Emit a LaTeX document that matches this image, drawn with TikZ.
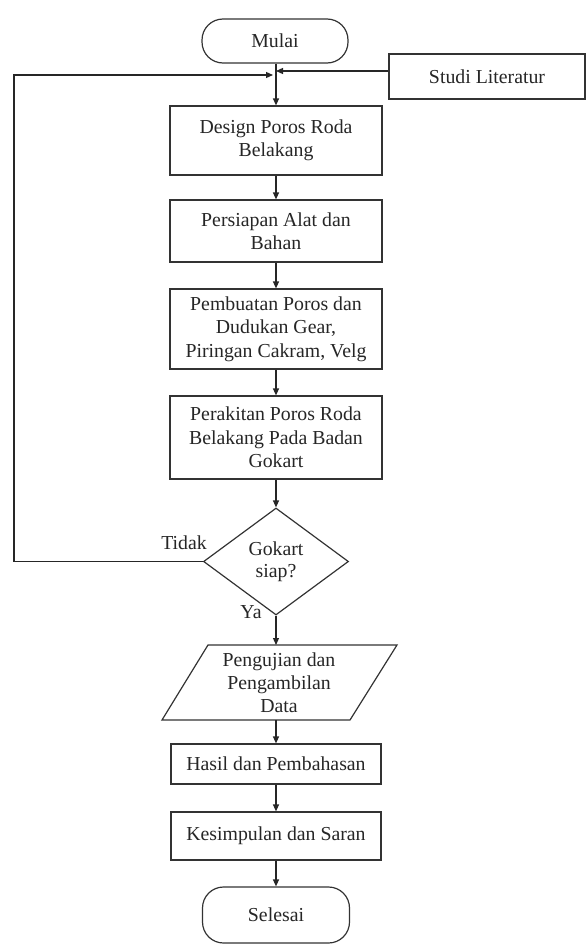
\documentclass[tikz,border=0pt]{standalone}
\usepackage{fontspec}
\setmainfont{Liberation Serif}
\usetikzlibrary{arrows.meta,shapes.geometric}
\begin{document}
\begin{tikzpicture}[x=1pt,y=-1pt,
  every node/.style={font=\fontsize{19.8}{23.5}\selectfont, align=center, inner sep=0pt, text=black!85},
  proc/.style={draw=black!80, line width=1.2pt, minimum width=212pt},
  term/.style={draw=black!80, rounded corners=21pt, line width=1.2pt, minimum width=146pt},
  dec/.style={draw=black!80, diamond, line width=1.2pt, minimum width=145pt, minimum height=107pt, font=\fontsize{19.8}{22}\selectfont},
  arr/.style={draw=black!85, line width=1.2pt, -{Triangle[length=7pt,width=6pt]}},
  ln/.style={draw=black!85, line width=1.2pt}
]
\useasboundingbox (0,0) rectangle (587,945);

\node[term, minimum height=44pt] (mulai) at (275,41) {Mulai};
\node[proc, minimum width=196pt, minimum height=45pt] (studi) at (487,76.5) {Studi Literatur};
\node[proc, minimum height=69pt] (design) at (276,140.5) {Design Poros Roda\\Belakang};
\node[proc, minimum height=62pt] (persiapan) at (276,231) {Persiapan Alat dan\\Bahan};
\node[proc, minimum height=80pt] (pembuatan) at (276,329) {Pembuatan Poros dan\\Dudukan Gear,\\Piringan Cakram, Velg};
\node[proc, minimum height=83pt] (perakitan) at (276,437.5) {Perakitan Poros Roda\\Belakang Pada Badan\\Gokart};
\node[dec] (cek) at (276,561.5) {Gokart\\siap?};

\coordinate (p1) at (208,645);
\coordinate (p2) at (397,645);
\coordinate (p3) at (350,720);
\coordinate (p4) at (162,720);
\draw[draw=black!80, line width=1.2pt] (p1) -- (p2) -- (p3) -- (p4) -- cycle;
\node[font=\fontsize{19.8}{23}\selectfont] (data) at (279,682.5) {Pengujian dan\\Pengambilan\\Data};
\coordinate (ptop) at (276,645);
\coordinate (pbot) at (276,720);

\node[proc, minimum width=210pt, minimum height=40pt] (hasil) at (276,764) {Hasil dan Pembahasan};
\node[proc, minimum width=210pt, minimum height=48pt] (kesimpulan) at (276,836) {Kesimpulan dan Saran};
\node[term, minimum width=147pt, minimum height=56pt] (selesai) at (276,915) {Selesai};

\node[anchor=east] (tidak) at (207,543) {Tidak};
\node (ya) at (251,612) {Ya};

% junction points on the top vertical line
\coordinate (jl) at (273,75);
\coordinate (jr) at (276,71);
\coordinate (lx) at (14,561.5);

\draw[arr] (mulai.south -| design.north) -- (design.north);
\draw[arr] (studi.west |- jr) -- (jr);
\draw[arr] (cek.west) -- (lx) |- (jl);
\draw[arr] (design.south) -- (persiapan.north);
\draw[arr] (persiapan.south) -- (pembuatan.north);
\draw[arr] (pembuatan.south) -- (perakitan.north);
\draw[arr] (perakitan.south) -- (cek.north);
\draw[arr] (cek.south) -- (ptop);
\draw[arr] (pbot) -- (hasil.north);
\draw[arr] (hasil.south) -- (kesimpulan.north);
\draw[arr] (kesimpulan.south) -- (selesai.north);
\end{tikzpicture}
\end{document}
